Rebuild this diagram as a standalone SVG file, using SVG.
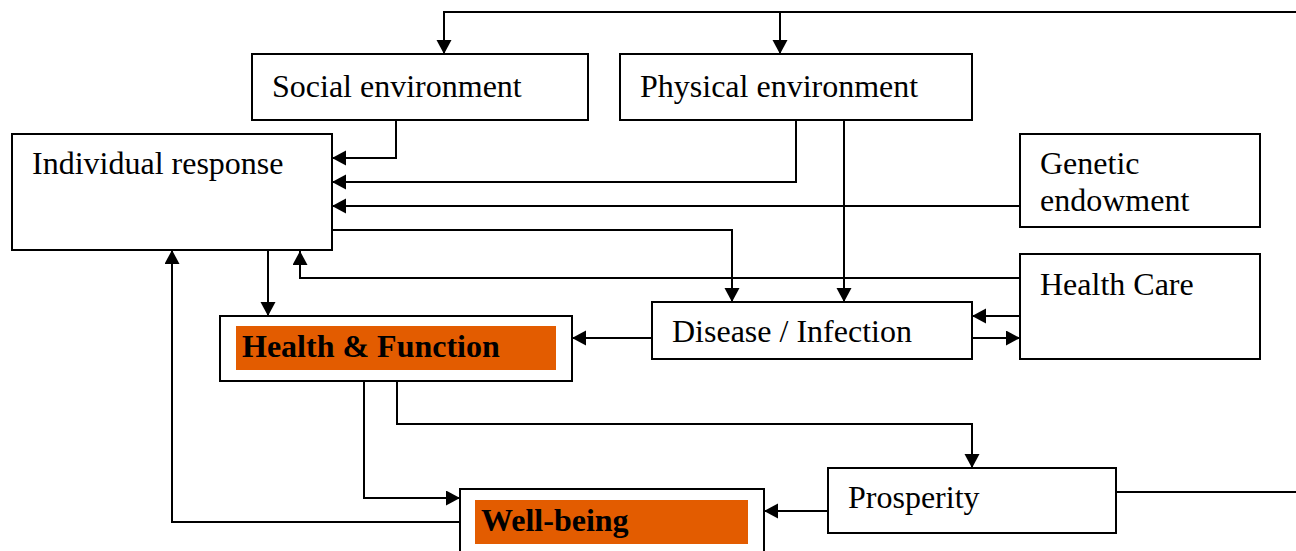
<svg xmlns="http://www.w3.org/2000/svg" width="1296" height="551" viewBox="0 0 1296 551">
<style>
.box{fill:#fff;stroke:#000;stroke-width:2}
.hl{fill:#E35C00;stroke:none}
.t{font-family:"Liberation Serif","Times New Roman",serif;font-size:32px;fill:#000}
.b{font-weight:bold}
.c{fill:none;stroke:#000;stroke-width:2}
</style>
<defs>
<marker id="ah" markerUnits="userSpaceOnUse" markerWidth="16" markerHeight="16" refX="14" refY="7.5" orient="auto">
<path d="M0,0 L14,7.5 L0,15 Z" fill="#000"/>
</marker>
</defs>
<rect width="1296" height="551" fill="#fff"/>
<g id="connectors">
<path class="c" d="M1296,12 H444 V54" marker-end="url(#ah)"/>
<path class="c" d="M780,12 V54" marker-end="url(#ah)"/>
<path class="c" d="M396,120 V158 H332" marker-end="url(#ah)"/>
<path class="c" d="M796,120 V182 H332" marker-end="url(#ah)"/>
<path class="c" d="M1020,206 H332" marker-end="url(#ah)"/>
<path class="c" d="M844,120 V302" marker-end="url(#ah)"/>
<path class="c" d="M332,230 H732 V302" marker-end="url(#ah)"/>
<path class="c" d="M1020,278 H300 V251" marker-end="url(#ah)"/>
<path class="c" d="M268,250 V316" marker-end="url(#ah)"/>
<path class="c" d="M460,522 H172 V250" marker-end="url(#ah)"/>
<path class="c" d="M652,338 H572" marker-end="url(#ah)"/>
<path class="c" d="M1020,316 H972" marker-end="url(#ah)"/>
<path class="c" d="M972,338 H1020" marker-end="url(#ah)"/>
<path class="c" d="M364,380 V498 H460" marker-end="url(#ah)"/>
<path class="c" d="M397,380 V424 H972 V468" marker-end="url(#ah)"/>
<path class="c" d="M828,511 H764" marker-end="url(#ah)"/>
<path class="c" d="M1116,492 H1296"/>
</g>
<g id="social-environment">
<rect class="box" x="252" y="54" width="336" height="66"/>
<text class="t" x="272" y="97">Social environment</text>
</g>
<g id="physical-environment">
<rect class="box" x="620" y="54" width="352" height="66"/>
<text class="t" x="640" y="97">Physical environment</text>
</g>
<g id="individual-response">
<rect class="box" x="12" y="134" width="320" height="116"/>
<text class="t" x="32" y="174">Individual response</text>
</g>
<g id="genetic-endowment">
<rect class="box" x="1020" y="134" width="240" height="93"/>
<text class="t" x="1040" y="174">Genetic</text>
<text class="t" x="1040" y="211">endowment</text>
</g>
<g id="health-care">
<rect class="box" x="1020" y="254" width="240" height="105"/>
<text class="t" x="1040" y="295">Health Care</text>
</g>
<g id="disease-infection">
<rect class="box" x="652" y="302" width="320" height="57"/>
<text class="t" x="672" y="342">Disease / Infection</text>
</g>
<g id="health-function">
<rect class="box" x="220" y="316" width="352" height="65"/>
<rect class="hl" x="236" y="326" width="320" height="44"/>
<text class="t b" x="242" y="357">Health &amp; Function</text>
</g>
<g id="prosperity">
<rect class="box" x="828" y="468" width="288" height="65"/>
<text class="t" x="848" y="508">Prosperity</text>
</g>
<g id="well-being">
<rect class="box" x="460" y="489" width="304" height="75"/>
<rect class="hl" x="475" y="500" width="273" height="44"/>
<text class="t b" x="481" y="531">Well-being</text>
</g>
</svg>
